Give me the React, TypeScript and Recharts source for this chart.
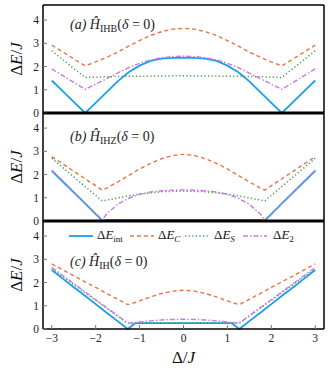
import React from 'react';
import { LineChart, Line, XAxis, YAxis, Legend } from 'recharts';

const xTicks = [-3, -2, -1, 0, 1, 2, 3];
const yTicks = [0, 1, 2, 3, 4];

// (a) H_IHB
const deltaA = [-3, -2.75, -2.5, -2.24, -2, -1.75, -1.5, -1.25, -1, -0.75, -0.5, -0.25, 0, 0.25, 0.5, 0.75, 1, 1.25, 1.5, 1.75, 2, 2.24, 2.5, 2.75, 3];
const intA = [1.4, 0.94, 0.48, 0, 0.44, 0.9, 1.36, 1.75, 2.04, 2.24, 2.34, 2.37, 2.38, 2.37, 2.34, 2.24, 2.04, 1.75, 1.36, 0.9, 0.44, 0, 0.48, 0.94, 1.4];
const cA = [2.92, 2.63, 2.33, 2.03, 2.2, 2.4, 2.62, 2.88, 3.12, 3.34, 3.5, 3.61, 3.65, 3.61, 3.5, 3.34, 3.12, 2.88, 2.62, 2.4, 2.2, 2.03, 2.33, 2.63, 2.92];
const sA = [2.68, 2.3, 1.92, 1.53, 1.55, 1.56, 1.57, 1.58, 1.58, 1.59, 1.59, 1.6, 1.6, 1.6, 1.59, 1.59, 1.58, 1.58, 1.57, 1.56, 1.55, 1.53, 1.92, 2.3, 2.68];
const e2A = [1.9, 1.61, 1.32, 1.02, 1.24, 1.48, 1.72, 1.95, 2.14, 2.29, 2.38, 2.43, 2.45, 2.43, 2.38, 2.29, 2.14, 1.95, 1.72, 1.48, 1.24, 1.02, 1.32, 1.61, 1.9];

// (b) H_IHZ
const deltaB = [-3, -2.75, -2.5, -2.25, -2, -1.85, -1.75, -1.5, -1.25, -1, -0.75, -0.5, -0.25, 0, 0.25, 0.5, 0.75, 1, 1.25, 1.5, 1.75, 1.85, 2, 2.25, 2.5, 2.75, 3];
const intB = [2.16, 1.7, 1.23, 0.77, 0.3, 0.02, 0.05, 0.05, 0.05, 0.05, 0.05, 0.05, 0.05, 0.05, 0.05, 0.05, 0.05, 0.05, 0.05, 0.05, 0.05, 0.02, 0.3, 0.77, 1.23, 1.7, 2.16];
const cB = [2.77, 2.46, 2.14, 1.83, 1.52, 1.33, 1.42, 1.68, 1.96, 2.24, 2.48, 2.68, 2.82, 2.87, 2.82, 2.68, 2.48, 2.24, 1.96, 1.68, 1.42, 1.33, 1.52, 1.83, 2.14, 2.46, 2.77];
const sB = [2.7, 2.3, 1.9, 1.5, 1.1, 0.86, 0.9, 0.99, 1.08, 1.16, 1.21, 1.26, 1.28, 1.29, 1.28, 1.26, 1.21, 1.16, 1.08, 0.99, 0.9, 0.86, 1.1, 1.5, 1.9, 2.3, 2.7];
const e2B = [2.2, 1.73, 1.26, 0.79, 0.32, 0.05, 0.3, 0.72, 0.98, 1.15, 1.25, 1.3, 1.33, 1.34, 1.33, 1.3, 1.25, 1.15, 0.98, 0.72, 0.3, 0.05, 0.32, 0.79, 1.26, 1.73, 2.2];

// (c) H_IH
const deltaC = [-3, -2.75, -2.5, -2.25, -2, -1.75, -1.5, -1.27, -1.1, -1, -0.75, -0.5, -0.25, 0, 0.25, 0.5, 0.75, 1, 1.1, 1.27, 1.5, 1.75, 2, 2.25, 2.5, 2.75, 3];
const intC = [2.54, 2.17, 1.8, 1.44, 1.07, 0.7, 0.34, 0, 0.25, 0.25, 0.25, 0.25, 0.25, 0.25, 0.25, 0.25, 0.25, 0.25, 0.25, 0, 0.34, 0.7, 1.07, 1.44, 1.8, 2.17, 2.54];
const cC = [2.8, 2.55, 2.29, 2.04, 1.79, 1.53, 1.28, 1.05, 1.14, 1.21, 1.38, 1.53, 1.63, 1.67, 1.63, 1.53, 1.38, 1.21, 1.14, 1.05, 1.28, 1.53, 1.79, 2.04, 2.29, 2.55, 2.8];
const sC = [2.6, 2.26, 1.92, 1.58, 1.24, 0.9, 0.56, 0.25, 0.26, 0.26, 0.26, 0.27, 0.27, 0.27, 0.27, 0.27, 0.26, 0.26, 0.26, 0.25, 0.56, 0.9, 1.24, 1.58, 1.92, 2.26, 2.6];
const e2C = [2.65, 2.3, 1.96, 1.61, 1.26, 0.92, 0.57, 0.25, 0.28, 0.3, 0.35, 0.39, 0.41, 0.42, 0.41, 0.39, 0.35, 0.3, 0.28, 0.25, 0.57, 0.92, 1.26, 1.61, 1.96, 2.3, 2.65];

const SERIF = '"Liberation Serif", "DejaVu Serif", serif';

const SERIES = [
  { key: 'int', color: '#1c9ef0', width: 1.8, dash: undefined as string | undefined, sub: 'int', subItalic: false },
  { key: 'c', color: '#ec7449', width: 1.4, dash: '4 3', sub: 'C', subItalic: true },
  { key: 's', color: '#3c9f48', width: 1.5, dash: '1.2 2.4', sub: 'S', subItalic: true },
  { key: 'e2', color: '#c37ce3', width: 1.4, dash: '5 2 1.5 2', sub: '2', subItalic: false },
];

const buildRows = (delta: number[], int: number[], c: number[], s: number[], e2: number[]) =>
  delta.map((d, i) => ({ delta: d, int: int[i], c: c[i], s: s[i], e2: e2[i] }));

const rowsA = buildRows(deltaA, intA, cA, sA, e2A);
const rowsB = buildRows(deltaB, intB, cB, sB, e2B);
const rowsC = buildRows(deltaC, intC, cC, sC, e2C);

const fmtX = (v: number) => (v < 0 ? '\u2212' + Math.abs(v) : String(v));
const tickStyle = { fontFamily: SERIF, fontSize: 11.5, fill: '#222' };

const renderYLabel = (props: any) => {
  const vb = props.viewBox || {};
  const cx = 16;
  const cy = vb.y + vb.height / 2;
  return (
    <text x={cx} y={cy} transform={`rotate(-90 ${cx} ${cy})`} textAnchor="middle" dominantBaseline="central"
      fontFamily={SERIF} fontSize={17} fill="#111">
      Δ<tspan fontStyle="italic">E</tspan>/<tspan fontStyle="italic">J</tspan>
    </text>
  );
};

const renderXLabel = (props: any) => {
  const vb = props.viewBox || {};
  return (
    <text x={vb.x + vb.width / 2} y={vb.y + 34} textAnchor="middle" fontFamily={SERIF} fontSize={17} fill="#111">
      Δ/<tspan fontStyle="italic">J</tspan>
    </text>
  );
};

const legendLine = [69, 130, 185, 243];
const legendText = [97, 158, 214, 273];

const renderLegend = () => (
  <div style={{ position: 'relative', width: 330, height: 14, fontFamily: SERIF, fontSize: 13, color: '#111' }}>
    {SERIES.map((s, i) => (
      <React.Fragment key={s.key}>
        <svg width={24} height={6} style={{ position: 'absolute', left: legendLine[i], top: 4 }}>
          <line x1={0} x2={24} y1={3} y2={3} stroke={s.color} strokeWidth={s.width} strokeDasharray={s.dash} />
        </svg>
        <span style={{ position: 'absolute', left: legendText[i], top: -1, whiteSpace: 'nowrap', lineHeight: '14px' }}>
          Δ<i>E</i>
          <span style={{ fontSize: 9, position: 'relative', top: 3, fontStyle: s.subItalic ? 'italic' : 'normal' }}>{s.sub}</span>
        </span>
      </React.Fragment>
    ))}
  </div>
);

interface PanelProps {
  rows: any[];
  top: number;
  marginTop: number;
  bottomHeight: number;
  thick: boolean;
  withXLabels: boolean;
  withLegend: boolean;
  title: React.ReactNode;
  titleTop: number;
}

function Panel({ rows, top, marginTop, bottomHeight, thick, withXLabels, withLegend, title, titleTop }: PanelProps) {
  const height = marginTop + 1 + 108 + bottomHeight;
  return (
    <div style={{ position: 'absolute', left: 0, top, width: 330, height }}>
      <LineChart width={330} height={height} data={rows} margin={{ top: marginTop, right: 5, bottom: 0, left: 13 }}>
        <XAxis xAxisId="top" orientation="top" dataKey="delta" type="number" domain={[-3.2, 3.2]} ticks={xTicks}
          height={1} tick={false} tickSize={-4} axisLine={{ stroke: '#000', strokeWidth: 1.5 }} tickLine={{ stroke: '#777' }} />
        <XAxis dataKey="delta" type="number" domain={[-3.2, 3.2]} ticks={xTicks} interval={0} height={bottomHeight}
          tickSize={-4} tickMargin={9} tick={withXLabels ? tickStyle : false} tickFormatter={fmtX}
          axisLine={{ stroke: '#000', strokeWidth: thick ? 3 : 1.5 }} tickLine={{ stroke: '#777' }}
          label={withXLabels ? renderXLabel : undefined} />
        <YAxis domain={[0, 4.65]} ticks={yTicks} interval={0} width={30} tickSize={-4} tickMargin={8} tick={tickStyle}
          axisLine={{ stroke: '#000', strokeWidth: 1.5 }} tickLine={{ stroke: '#777' }} label={renderYLabel} />
        <YAxis yAxisId="right" orientation="right" domain={[0, 4.65]} ticks={yTicks} width={1} tickSize={-4} tick={false}
          axisLine={{ stroke: '#000', strokeWidth: 1.5 }} tickLine={{ stroke: '#777' }} />
        {SERIES.map((s) => (
          <Line key={s.key} type="linear" dataKey={s.key} stroke={s.color} strokeWidth={s.width}
            strokeDasharray={s.dash} dot={false} activeDot={false} isAnimationActive={false} />
        ))}
        {withLegend && (
          <Legend verticalAlign="middle" align="center" layout="horizontal" content={renderLegend}
            wrapperStyle={{ position: 'absolute', top: 9, left: 0, width: 330, height: 14 }} />
        )}
      </LineChart>
      <div style={{ position: 'absolute', left: 70, top: titleTop, fontFamily: SERIF, fontSize: 14, color: '#222', whiteSpace: 'nowrap', lineHeight: '16px' }}>
        {title}
      </div>
    </div>
  );
}

const Title = ({ tag, sub }: { tag: string; sub: string }) => (
  <span>
    <i>({tag})</i> <i>Ĥ</i>
    <span style={{ fontSize: 10, position: 'relative', top: 3 }}>{sub}</span>(<i>δ</i> = 0)
  </span>
);

export default function App() {
  return (
    <div style={{ position: 'absolute', left: 0, top: 0, width: 330, height: 375, background: '#fff' }}>
      <style>{'.recharts-surface{overflow:visible}'}</style>
      <Panel rows={rowsA} top={0} marginTop={4} bottomHeight={1} thick withXLabels={false} withLegend={false}
        title={<Title tag="a" sub="IHB" />} titleTop={17} />
      <Panel rows={rowsB} top={112} marginTop={0} bottomHeight={1} thick withXLabels={false} withLegend={false}
        title={<Title tag="b" sub="IHZ" />} titleTop={17} />
      <Panel rows={rowsC} top={220} marginTop={0} bottomHeight={46} thick={false} withXLabels withLegend
        title={<Title tag="c" sub="IH" />} titleTop={34} />
    </div>
  );
}
